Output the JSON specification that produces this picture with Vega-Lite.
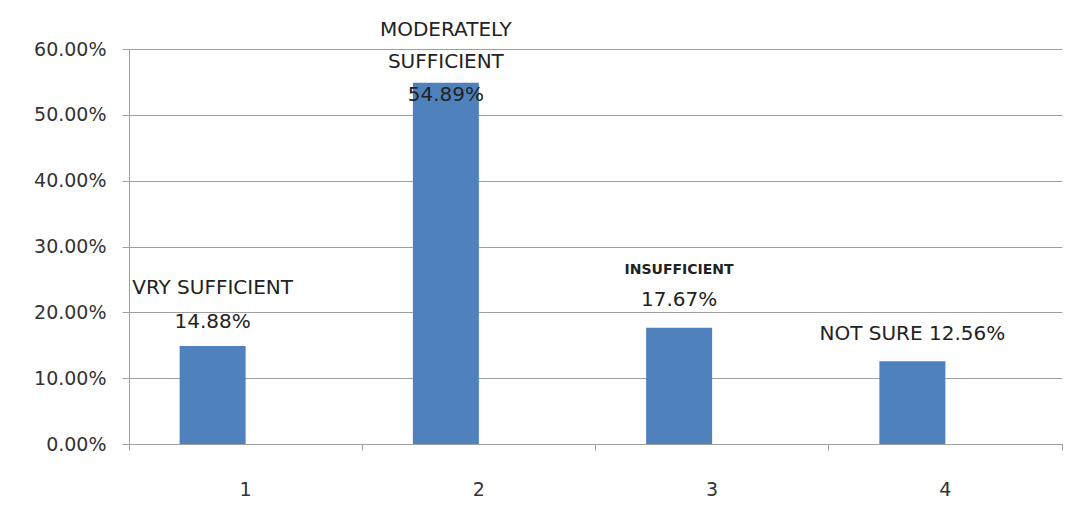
{
  "$schema": "https://vega.github.io/schema/vega-lite/v6.json",
  "width": 933,
  "height": 395,
  "autosize": {"type": "none"},
  "padding": {"left": 129, "top": 49, "right": 26, "bottom": 68},
  "background": "white",
  "config": {"view": {"stroke": null}, "font": "DejaVu Sans"},
  "data": {
    "values": [
      {"cat": "1", "value": 0.1488, "name": "VRY SUFFICIENT", "pct": "14.88%", "label": "VRY SUFFICIENT\n14.88%"},
      {"cat": "2", "value": 0.5489, "name": "MODERATELY SUFFICIENT", "pct": "54.89%", "label": "MODERATELY\nSUFFICIENT\n54.89%"},
      {"cat": "3", "value": 0.1767, "name": "INSUFFICIENT", "pct": "17.67%", "label": "INSUFFICIENT\n17.67%"},
      {"cat": "4", "value": 0.1256, "name": "NOT SURE", "pct": "12.56%", "label": "NOT SURE 12.56%"}
    ]
  },
  "encoding": {
    "x": {
      "field": "cat",
      "type": "ordinal",
      "scale": {"paddingInner": 0, "paddingOuter": 0},
      "axis": {
        "title": null,
        "labelAngle": 0,
        "bandPosition": 1,
        "tickExtra": true,
        "grid": false,
        "domainColor": "#a0a0a0",
        "tickColor": "#a0a0a0",
        "tickSize": 6,
        "labelFontSize": 19,
        "labelColor": "#333333",
        "labelPadding": 30
      }
    },
    "y": {
      "field": "value",
      "type": "quantitative",
      "scale": {"domain": [0, 0.6], "nice": false},
      "axis": {
        "title": null,
        "format": ".2%",
        "values": [0, 0.1, 0.2, 0.3, 0.4, 0.5, 0.6],
        "grid": true,
        "gridColor": "#a0a0a0",
        "domainColor": "#a0a0a0",
        "tickColor": "#a0a0a0",
        "tickSize": 7,
        "labelFontSize": 19,
        "labelColor": "#333333",
        "labelPadding": 16
      }
    }
  },
  "layer": [
    {
      "mark": {"type": "bar", "color": "#4F81BD", "width": {"band": 0.283}, "xOffset": -33}
    },
    {
      "transform": [{"filter": "datum.cat == '1'"}],
      "mark": {"type": "text", "xOffset": -33, "dy": -58, "baseline": "middle", "lineBreak": "\n", "lineHeight": 34, "fontSize": 20, "color": "#222222"},
      "encoding": {"text": {"field": "label"}}
    },
    {
      "transform": [{"filter": "datum.cat == '2'"}],
      "mark": {"type": "text", "xOffset": -33, "dy": -53, "baseline": "middle", "lineBreak": "\n", "lineHeight": 32.5, "fontSize": 20, "color": "#222222"},
      "encoding": {"text": {"field": "label"}}
    },
    {
      "transform": [{"filter": "datum.cat == '3'"}],
      "mark": {"type": "text", "xOffset": -33, "dy": -28, "baseline": "middle", "fontSize": 20, "color": "#222222"},
      "encoding": {"text": {"field": "pct"}}
    },
    {
      "transform": [{"filter": "datum.cat == '3'"}],
      "mark": {"type": "text", "xOffset": -33, "dy": -58, "baseline": "middle", "fontSize": 14, "fontWeight": "bold", "color": "#222222"},
      "encoding": {"text": {"field": "name"}}
    },
    {
      "transform": [{"filter": "datum.cat == '4'"}],
      "mark": {"type": "text", "xOffset": -33, "dy": -27, "baseline": "middle", "fontSize": 20, "color": "#222222"},
      "encoding": {"text": {"field": "label"}}
    }
  ]
}
